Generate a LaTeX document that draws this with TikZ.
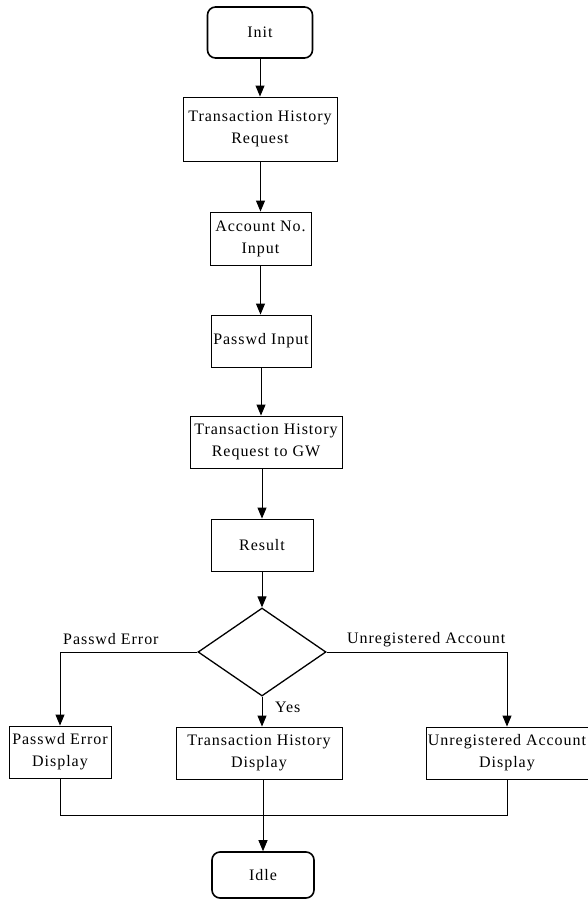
\documentclass[tikz,border=0pt]{standalone}
\usepackage{fontspec}
\setmainfont{Liberation Serif}[LetterSpace=6]
\usetikzlibrary{arrows.meta,shapes.geometric}

\tikzset{
  txt/.style={font=\fontsize{16}{22}\selectfont, align=center, inner sep=0pt},
  terminal/.style={txt, draw, line width=1.6pt, rounded corners=8pt},
  procbox/.style={txt, draw, line width=0.9pt},
  decision/.style={draw, diamond, line width=1.3pt, inner sep=0pt,
    minimum width=128pt, minimum height=88pt},
  flow/.style={line width=1pt, -{Triangle[length=11pt,width=9pt]}},
  wire/.style={line width=1pt},
  lbl/.style={txt, anchor=west}
}

\begin{document}
\begin{tikzpicture}[x=1pt, y=-1pt]
  \useasboundingbox (0,0) rectangle (588,901);

  % main column
  \node[terminal, minimum width=105pt, minimum height=51pt] (init) at (260,32.5) {Init};
  \node[procbox, minimum width=154pt, minimum height=64pt] (threq) at (260,129)
    {Transaction History\\Request};
  \node[procbox, minimum width=101pt, minimum height=53pt] (acct) at (260.5,238.5)
    {Account No.\\Input};
  \node[procbox, minimum width=100pt, minimum height=52pt] (pw) at (261,341)
    {Passwd Input};
  \node[procbox, minimum width=152pt, minimum height=52pt] (gw) at (266,442)
    {Transaction History\\Request to GW};
  \node[procbox, minimum width=102pt, minimum height=52pt] (res) at (262,545)
    {Result};
  \node[decision] (dec) at (262,652) {};

  % outcomes
  \node[procbox, minimum width=102pt, minimum height=52pt] (ped) at (60,752)
    {Passwd Error\\Display};
  \node[procbox, minimum width=166pt, minimum height=52pt] (thd) at (259,753)
    {Transaction History\\Display};
  \node[procbox, minimum width=162pt, minimum height=52pt] (uad) at (507,753)
    {Unregistered Account\\Display};
  \node[terminal, minimum width=102pt, minimum height=46pt] (idle) at (263,875)
    {Idle};

  % branch labels
  \node[lbl] (lpe) at (63,639) {Passwd Error};
  \node[lbl] (lua) at (347,640) {Unregistered Account};
  \node[lbl] (lyes) at (275,707) {Yes};

  % vertical flow
  \draw[flow] (init.south) -- (init.south |- threq.north);
  \draw[flow] (acct.north |- threq.south) -- (acct.north);
  \draw[flow] (acct.south) -- (acct.south |- pw.north);
  \draw[flow] (pw.south) -- (pw.south |- gw.north);
  \draw[flow] (res.north |- gw.south) -- (res.north);
  \draw[flow] (res.south) -- (dec.north);

  % decision branches
  \draw[flow] (dec.west) -| (ped.north);
  \draw[flow] (dec.east) -| (uad.north);
  \draw[flow] (dec.south) -- (dec.south |- thd.north);

  % merge into Idle
  \coordinate (mj) at (263,815);
  \draw[wire] (ped.south) |- (mj) -| (uad.south);
  \draw[flow] (idle.north |- thd.south) -- (idle.north);
\end{tikzpicture}
\end{document}
